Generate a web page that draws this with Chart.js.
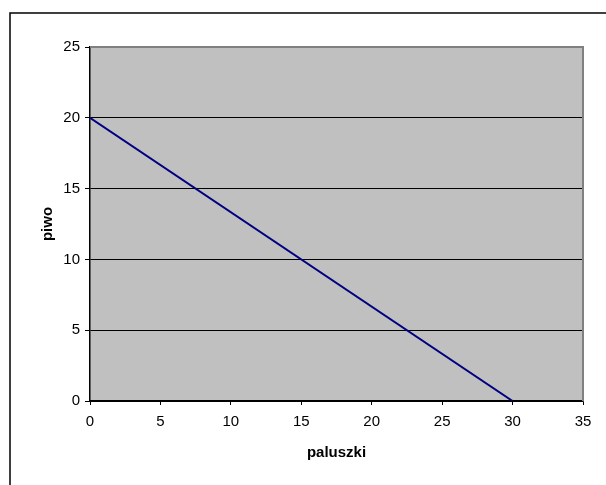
<!DOCTYPE html>
<html>
<head>
<meta charset="utf-8">
<script src="https://cdn.jsdelivr.net/npm/chart.js@4"></script>
<style>
  html, body { margin: 0; padding: 0; background: #fff; }
  #wrap { width: 606px; height: 485px; position: relative; }
</style>
</head>
<body>
<div id="wrap"><canvas id="chart"></canvas></div>
<script>
// dane z wykresu
const paluszki = [0, 30];
const piwo = [20, 0];
const xTicks = [0, 5, 10, 15, 20, 25, 30, 35];
const yTicks = [0, 5, 10, 15, 20, 25];

// tło obszaru wykresu i ramka
const tloPlugin = {
    id: 'tlo',
    beforeDraw(chart) {
        const { ctx, chartArea: a } = chart;
        ctx.save();
        ctx.strokeStyle = '#000';
        ctx.lineWidth = 1.5;
        ctx.beginPath();
        ctx.moveTo(10, chart.height + 5);
        ctx.lineTo(10, 13);
        ctx.lineTo(chart.width + 5, 13);
        ctx.stroke();
        ctx.fillStyle = '#C0C0C0';
        ctx.fillRect(a.left, a.top, a.right - a.left, a.bottom - a.top);
        ctx.restore();
    },
    afterDatasetsDraw(chart) {
        const { ctx, chartArea: a } = chart;
        ctx.save();
        ctx.strokeStyle = '#808080';
        ctx.lineWidth = 2;
        ctx.beginPath();
        ctx.moveTo(a.left, a.top);
        ctx.lineTo(a.right, a.top);
        ctx.lineTo(a.right, a.bottom);
        ctx.stroke();
        ctx.restore();
    }
};

const font = { family: '"Liberation Sans", Arial, sans-serif', size: 15 };

new Chart(document.getElementById('chart'), {
    type: 'line',
    data: {
        datasets: [{
            data: paluszki.map((x, i) => ({ x: x, y: piwo[i] })),
            borderColor: '#000080',
            borderWidth: 2,
            pointRadius: 0,
            fill: false,
            tension: 0
        }]
    },
    options: {
        responsive: true,
        maintainAspectRatio: false,
        animation: false,
        layout: { padding: { left: 0, top: 47, right: 23, bottom: 0 } },
        plugins: {
            legend: { display: false },
            tooltip: { enabled: false }
        },
        scales: {
            x: {
                type: 'linear',
                min: 0,
                max: 35,
                afterBuildTicks: s => { s.ticks = xTicks.map(v => ({ value: v })); },
                afterFit: s => { s.height = 84; },
                grid: { drawOnChartArea: false, drawTicks: true, tickLength: 4, tickColor: '#000' },
                border: { color: '#000', width: 1.5 },
                ticks: { color: '#000', font: font, padding: 8, maxRotation: 0 },
                title: {
                    display: true,
                    text: 'paluszki',
                    color: '#000',
                    font: { ...font, weight: 'bold' },
                    padding: { top: 0, bottom: 23 }
                }
            },
            y: {
                min: 0,
                max: 25,
                afterBuildTicks: s => { s.ticks = yTicks.map(v => ({ value: v })); },
                afterFit: s => { s.width = 90; },
                grid: {
                    color: c => (c.tick && c.tick.value === 25 ? 'rgba(0,0,0,0)' : '#000'),
                    lineWidth: 1,
                    tickLength: 5,
                    tickColor: '#000'
                },
                border: { color: '#000', width: 1.5 },
                ticks: { color: '#000', font: font, padding: 5 },
                title: {
                    display: true,
                    text: 'piwo',
                    color: '#000',
                    font: { ...font, weight: 'bold' },
                    padding: { top: 39, bottom: 0 }
                }
            }
        }
    },
    plugins: [tloPlugin]
});
</script>
</body>
</html>
